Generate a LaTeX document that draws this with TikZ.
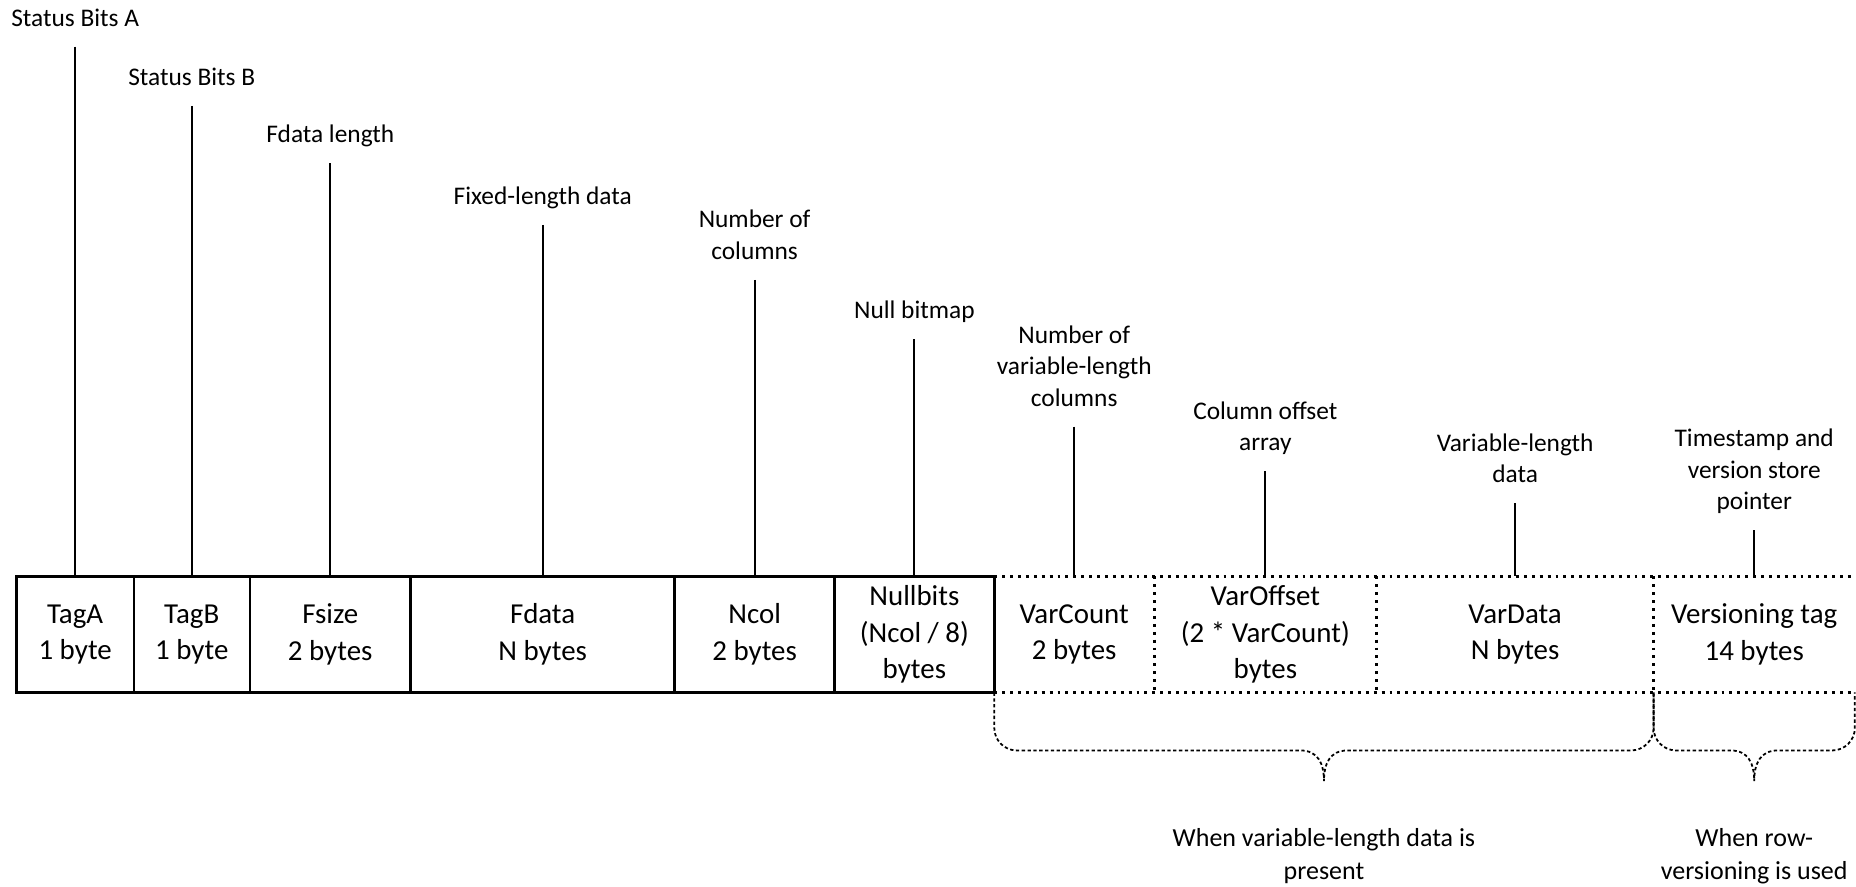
\documentclass[tikz,border=0pt]{standalone}
\usepackage{fontspec}
\setmainfont{Carlito}
\usetikzlibrary{positioning}
\usetikzlibrary{calc}

\newcommand{\fieldfont}{\fontsize{13.9pt}{17.6pt}\selectfont}
\newcommand{\labelfont}{\fontsize{12.2pt}{15.1pt}\selectfont}
\newcommand{\notefont}{\fontsize{12.5pt}{15.9pt}\selectfont}

% dotted brace under the optional fields: left corner, right corner, name of the tip
\newcommand{\optbrace}[3]{%
	\coordinate (#3) at ($(#1)!0.5!(#2)+(0,-1.5)$);
	\draw[brace line] (#1) -- ++(0,-0.6) arc[start angle=180, end angle=270, radius=0.38]
		-- ($(#3)+(-0.4,0.52)$) .. controls ($(#3)+(-0.1,0.52)$) and ($(#3)+(0,0.3)$) .. (#3)
		.. controls ($(#3)+(0,0.3)$) and ($(#3)+(0.1,0.52)$) .. ($(#3)+(0.4,0.52)$)
		-- ($(#2)+(-0.38,-0.98)$) arc[start angle=270, end angle=360, radius=0.38] -- (#2);
}

\begin{document}
\begin{tikzpicture}
		[node distance=0pt,
		field/.style={draw, line width=1.2pt, outer sep=0pt, inner sep=0pt, minimum height=1.96cm, align=center, font=\fieldfont},
		optfield/.style={field, draw=none},
		opt line/.style={line width=1.4pt, dash pattern=on 1.4pt off 2.4pt},
		lbl/.style={inner sep=0pt, text depth=0.34cm, align=center, font=\labelfont},
		lead/.style={line width=1pt},
		note/.style={inner sep=0pt, align=center, font=\notefont},
		brace line/.style={line width=0.85pt, dash pattern=on 1.6pt off 1.2pt}]
		\useasboundingbox (0,0) rectangle (31.36,14.98);

		% the row
		\node[field, minimum width=1.98cm, anchor=north west] (taga) at (0.28,5.24) {TagA\\1 byte};
		\node[field, minimum width=1.96cm, right=of taga] (tagb) {TagB\\1 byte};
		\node[field, minimum width=2.72cm, right=of tagb] (fsize) {Fsize\\2 bytes};
		\node[field, minimum width=4.46cm, right=of fsize] (fdata) {Fdata\\N bytes};
		\node[field, minimum width=2.70cm, right=of fdata] (ncol) {Ncol\\2 bytes};
		\node[field, minimum width=2.70cm, right=of ncol] (nullbits) {Nullbits\\(Ncol / 8)\\bytes};
		\node[optfield, minimum width=2.70cm, right=of nullbits] (varcount) {VarCount\\2 bytes};
		\node[optfield, minimum width=3.76cm, right=of varcount] (varoffset) {VarOffset\\(2 * VarCount)\\bytes};
		\node[optfield, minimum width=4.68cm, right=of varoffset] (vardata) {VarData\\N bytes};
		\node[optfield, minimum width=3.40cm, right=of vardata] (vertag) {Versioning tag\\14 bytes};

		\draw[opt line] (nullbits.north east) -- (vertag.north east);
		\draw[opt line] (nullbits.south east) -- (vertag.south east);
		\draw[opt line] (varcount.north east) -- (varcount.south east);
		\draw[opt line] (varoffset.north east) -- (varoffset.south east);
		\draw[opt line] (vardata.north east) -- (vardata.south east);

		% labels on top
		\node[lbl, above=8.95cm of taga] (bitsa) {Status Bits A};
		\node[lbl, above=7.95cm of tagb] (bitsb) {Status Bits B};
		\node[lbl, above=6.98cm of fsize] (flen) {Fdata length};
		\node[lbl, above=5.94cm of fdata] (fixed) {Fixed-length data};
		\node[lbl, above=5.01cm of ncol] (ncols) {Number of\\columns};
		\node[lbl, above=4.01cm of nullbits] (nullmap) {Null bitmap};
		\node[lbl, above=2.53cm of varcount] (nvar) {Number of\\variable-length\\columns};
		\node[lbl, above=1.78cm of varoffset] (offarr) {Column offset\\array};
		\node[lbl, above=1.24cm of vardata] (vlen) {Variable-length\\data};
		\node[lbl, above=0.78cm of vertag] (tstamp) {Timestamp and\\version store\\pointer};

		\draw[lead] (bitsa) -- (taga);
		\draw[lead] (bitsb) -- (tagb);
		\draw[lead] (flen) -- (fsize);
		\draw[lead] (fixed) -- (fdata);
		\draw[lead] (ncols) -- (ncol);
		\draw[lead] (nullmap) -- (nullbits);
		\draw[lead] (nvar) -- (varcount);
		\draw[lead] (offarr) -- (varoffset);
		\draw[lead] (vlen) -- (vardata);
		\draw[lead] (tstamp) -- (vertag);

		% braces below
		\optbrace{varcount.south west}{vardata.south east}{vartip}
		\optbrace{vardata.south east}{vertag.south east}{vertip}

		\node[note, below=0.79cm of vartip] (varnote) {When variable-length data is\\present};
		\node[note, below=0.79cm of vertip] (vernote) {When row-\\versioning is used};
	\end{tikzpicture}
\end{document}
